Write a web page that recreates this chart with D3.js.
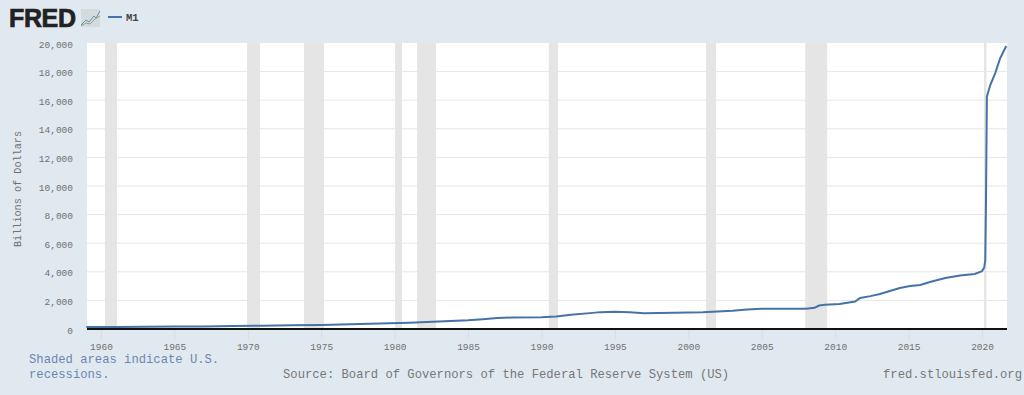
<!DOCTYPE html>
<html>
<head>
<meta charset="utf-8">
<script src="https://cdn.jsdelivr.net/npm/d3@7"></script>
<style>
  html, body { margin: 0; padding: 0; background: #e1e9f0; overflow: hidden; }
  text { font-family: "Liberation Mono", monospace; }
  .axis text { fill: #707070; font-size: 9.5px; }
  .foot { font-size: 12.2px; fill: #777; }
</style>
</head>
<body>
<div id="chart"></div>
<script>
// M1, billions of dollars
const years = [1959, 1960, 1961, 1963, 1965, 1967, 1969, 1971, 1973, 1975, 1977, 1979, 1981, 1983, 1985, 1986, 1987, 1988, 1990, 1991, 1992, 1993.3, 1994, 1995, 1996, 1997, 1998, 1999, 2000, 2001, 2001.3, 2002, 2003, 2004, 2005, 2006, 2007, 2008, 2008.6, 2008.9, 2009.3, 2010.3, 2011.35, 2011.7, 2012.4, 2013.05, 2014.4, 2015.1, 2015.8, 2016.45, 2017.5, 2018.5, 2019.5, 2020, 2020.15, 2020.22, 2020.27, 2020.33, 2020.56, 2020.9, 2021.24, 2021.38, 2021.65];
const m1 = [139, 140, 143, 153, 168, 183, 205, 225, 260, 287, 330, 385, 440, 525, 610, 680, 770, 800, 830, 880, 1000, 1110, 1180, 1200, 1170, 1110, 1120, 1140, 1150, 1170, 1190, 1230, 1270, 1360, 1420, 1420, 1410, 1420, 1480, 1640, 1700, 1750, 1920, 2170, 2300, 2450, 2870, 3000, 3080, 3290, 3570, 3740, 3850, 4050, 4300, 4800, 9000, 16250, 17060, 17900, 18950, 19230, 19790];

const recessionStart = [1960.27, 1969.95, 1973.83, 1980.03, 1981.53, 1990.5, 2001.2, 2007.96, 2020.13];
const recessionEnd = [1961.09, 1970.83, 1975.19, 1980.5, 1982.82, 1991.13, 2001.89, 2009.45, 2020.3];

const yTicks = d3.range(0, 20001, 2000);
const xTicks = d3.range(1960, 2021, 5);

const width = 1024,
  height = 395,
  margin = { top: 43, right: 17, bottom: 66, left: 87 };

const svg = d3
  .select("#chart")
  .append("svg")
  .attr("width", width)
  .attr("height", height)
  .style("display", "block");

const x = d3
  .scaleLinear()
  .domain([1959.05, 2021.7])
  .range([margin.left, width - margin.right]);

const y = d3
  .scaleLinear()
  .domain([0, 20000])
  .range([height - margin.bottom, margin.top]);

// plot background
svg
  .append("rect")
  .attr("x", margin.left)
  .attr("y", margin.top)
  .attr("width", width - margin.left - margin.right)
  .attr("height", height - margin.top - margin.bottom)
  .attr("fill", "#fff");

// horizontal grid
svg
  .append("g")
  .selectAll("line")
  .data(yTicks.slice(1, -1))
  .join("line")
  .attr("x1", margin.left)
  .attr("x2", width - margin.right)
  .attr("y1", (d) => y(d))
  .attr("y2", (d) => y(d))
  .attr("stroke", "#e6e6e6");

// recession bars
svg
  .append("g")
  .selectAll("rect")
  .data(recessionStart)
  .join("rect")
  .attr("x", (d) => x(d))
  .attr("width", (d, i) => x(recessionEnd[i]) - x(d))
  .attr("y", margin.top)
  .attr("height", height - margin.top - margin.bottom)
  .attr("fill", "#e5e5e5");

// y axis
const yAxis = svg
  .append("g")
  .attr("class", "axis")
  .attr("transform", `translate(${margin.left},1)`)
  .call(d3.axisLeft(y).tickValues(yTicks).tickSize(0).tickPadding(14).tickFormat(d3.format(",")));
yAxis.select(".domain").remove();

// x axis
const xAxis = svg
  .append("g")
  .attr("class", "axis")
  .attr("transform", `translate(0,${height - margin.bottom})`)
  .call(d3.axisBottom(x).tickValues(xTicks).tickSize(10).tickPadding(4).tickFormat(d3.format("d")));
xAxis.select(".domain").remove();
xAxis.selectAll("line").attr("stroke", "#d5dde4");

svg
  .append("text")
  .attr("class", "axis-title")
  .attr("transform", "rotate(-90)")
  .attr("x", -189)
  .attr("y", 21)
  .attr("text-anchor", "middle")
  .attr("font-size", 10.2)
  .attr("fill", "#707070")
  .text("Billions of Dollars");

// baseline
svg
  .append("line")
  .attr("x1", margin.left)
  .attr("x2", width - margin.right)
  .attr("y1", y(0))
  .attr("y2", y(0))
  .attr("stroke", "#111")
  .attr("stroke-width", 2);

// series
const line = d3
  .line()
  .x((d, i) => x(years[i]))
  .y((d) => y(d));

svg
  .append("path")
  .attr("d", line(m1))
  .attr("fill", "none")
  .attr("stroke", "#4572a7")
  .attr("stroke-width", 2);

// logo
svg
  .append("text")
  .attr("x", 9)
  .attr("y", 27)
  .attr("font-size", 25)
  .attr("font-weight", 700)
  .style("font-family", "'Liberation Sans', sans-serif")
  .attr("fill", "#222")
  .attr("stroke", "#222")
  .attr("stroke-width", 0.7)
  .attr("textLength", 67)
  .text("FRED");

const icon = svg.append("g").attr("transform", "translate(81,9)");
icon.append("rect").attr("width", 19).attr("height", 18).attr("fill", "#d3dbdf");
icon
  .append("path")
  .attr("d", "M0,16L5,11L8,13L13,7L15,9L19,2")
  .attr("fill", "none")
  .attr("stroke", "#6f8fae")
  .attr("stroke-width", 1);
icon
  .append("path")
  .attr("d", "M0,17L5,14L9,15L14,10L19,7")
  .attr("fill", "none")
  .attr("stroke", "#8fa67c")
  .attr("stroke-width", 1);

// legend
svg
  .append("line")
  .attr("x1", 108)
  .attr("x2", 122)
  .attr("y1", 17)
  .attr("y2", 17)
  .attr("stroke", "#4572a7")
  .attr("stroke-width", 2);
svg
  .append("text")
  .attr("x", 126)
  .attr("y", 21)
  .attr("font-size", 10.5)
  .attr("font-weight", 700)
  .attr("fill", "#444")
  .text("M1");

// footer
svg
  .append("text")
  .attr("class", "foot")
  .attr("x", 29)
  .attr("y", 363)
  .style("fill", "#6a86b0")
  .text("Shaded areas indicate U.S.");
svg
  .append("text")
  .attr("class", "foot")
  .attr("x", 29)
  .attr("y", 378)
  .style("fill", "#6a86b0")
  .text("recessions.");
svg
  .append("text")
  .attr("class", "foot")
  .attr("x", 283)
  .attr("y", 378)
  .text("Source: Board of Governors of the Federal Reserve System (US)");
svg
  .append("text")
  .attr("class", "foot")
  .attr("x", 1022)
  .attr("y", 378)
  .attr("text-anchor", "end")
  .text("fred.stlouisfed.org");
</script>
</body>
</html>
